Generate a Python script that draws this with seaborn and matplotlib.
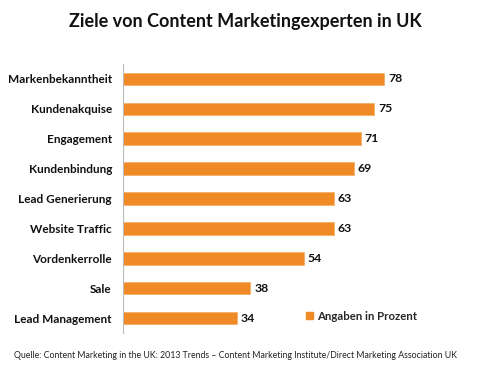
import numpy as np
import pandas as pd
import seaborn as sns
from matplotlib import pyplot as plt
from matplotlib.patches import Patch

categories = ["Markenbekanntheit", "Kundenakquise", "Engagement", "Kundenbindung",
              "Lead Generierung", "Website Traffic", "Vordenkerrolle", "Sale",
              "Lead Management"]
values = [78, 75, 71, 69, 63, 63, 54, 38, 34]
series_name = "Angaben in Prozent"


def main():
    sns.set_theme(style="white")
    plt.rcParams['font.family'] = ['Lato', 'DejaVu Sans']

    df = pd.DataFrame({"Ziel": categories, "Wert": values})
    color = "#EF8A27"

    fig = plt.figure(figsize=(4.9, 3.68), dpi=100)
    ax = fig.add_axes([123 / 490, 1 - 333 / 368, 350 / 490, 269 / 368])
    sns.barplot(data=df, x="Wert", y="Ziel", color=color, width=0.42,
                edgecolor="#F7B06A", linewidth=0.6, ax=ax, saturation=1)

    ax.set_xlim(0, 104.6)
    ax.set_ylim(8.5, -0.5)
    ax.set_xlabel("")
    ax.set_ylabel("")
    ax.set_xticks([])
    ax.tick_params(axis="y", length=0, pad=8)
    for lbl in ax.get_yticklabels():
        lbl.set_fontweight("bold")
        lbl.set_fontsize(8.5)
        lbl.set_color("#111111")
    for s in ["top", "right", "bottom"]:
        ax.spines[s].set_visible(False)
    ax.spines["left"].set_color("#BBBBBB")
    ax.spines["left"].set_linewidth(0.8)

    for i, v in enumerate(values):
        ax.text(v + 1.2, i, str(v), va="center", ha="left", fontsize=8.8,
                fontweight="bold", color="#111111")

    handle = Patch(facecolor=color, edgecolor=color)
    fig.legend([handle], [series_name], loc="center left", frameon=False,
               bbox_to_anchor=(306 / 490, 1 - 316 / 368), handlelength=0.6,
               handleheight=0.6, handletextpad=0.4, borderpad=0, borderaxespad=0,
               prop={"weight": "bold", "size": 8.2})

    fig.text(0.5, 1 - 22 / 368, "Ziele von Content Marketingexperten in UK",
             ha="center", va="center", fontsize=13, fontweight="bold", color="#111111")
    fig.text(14 / 490, 1 - 356 / 368,
             "Quelle: Content Marketing in the UK: 2013 Trends \u2013 Content Marketing Institute/Direct Marketing Association UK",
             ha="left", va="center", fontsize=6.3, color="#222222")

    plt.savefig("out.png", dpi=100)


if __name__ == '__main__':
    main()
